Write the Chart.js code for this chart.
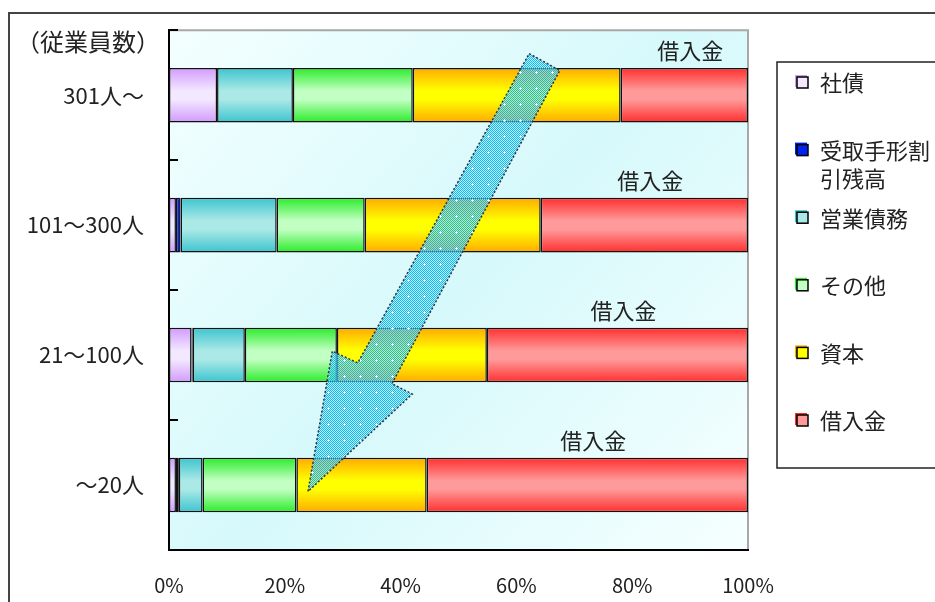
<!DOCTYPE html>
<html lang="ja">
<head>
<meta charset="utf-8">
<title>従業員規模別 資金調達構成</title>
<script src="https://cdn.jsdelivr.net/npm/chart.js@4.4.1/dist/chart.umd.min.js"></script>
<style>
  html, body { margin: 0; padding: 0; background: #fff; }
  #wrap { width: 935px; height: 602px; }
</style>
</head>
<body>
<div id="wrap"><canvas id="stackChart" width="935" height="602"></canvas></div>
<script>
// employee size classes and share of each funding source (%)
const categories = ['301人〜', '101〜300人', '21〜100人', '〜20人'];
const bonds = [8.3, 1.2, 3.9, 1.2];            // 社債
const discounted = [0, 0.8, 0.2, 0.5];         // 受取手形割引残高
const tradePayables = [13.1, 16.6, 9.0, 4.1];  // 営業債務
const others = [20.7, 15.2, 15.9, 16.2];       // その他
const capital = [35.9, 30.4, 25.9, 22.5];      // 資本
const loans = [22.0, 35.8, 45.1, 55.5];        // 借入金
const xTicks = [0, 20, 40, 60, 80, 100];

// arrow annotation in axis units (x: %, y: category index)
const arrowX = [62.2, 67.5, 38.5, 42.0, 24.0, 28.2, 32.6];
const arrowY = [-0.32, -0.19, 2.22, 2.30, 3.05, 1.97, 2.06];

const FONT = '"Noto Sans CJK JP", "Noto Sans", sans-serif';
const TEXT = '#222';

// vertical gradient per bar: saturated edges, light middle
function barFill(edge, mid) {
  return function(ctx) {
    const chart = ctx.chart;
    if (!chart.chartArea || ctx.type !== 'data') return mid;
    const ys = chart.scales.y;
    const yc = ys.getPixelForValue(ctx.dataIndex);
    const band = Math.abs(ys.getPixelForValue(1) - ys.getPixelForValue(0));
    const half = band * 0.42 / 2;
    const g = chart.ctx.createLinearGradient(0, yc - half, 0, yc + half);
    g.addColorStop(0, edge);
    g.addColorStop(0.42, mid);
    g.addColorStop(0.58, mid);
    g.addColorStop(1, edge);
    return g;
  };
}

function makeSeries(label, data, edge, mid) {
  return {
    label: label,
    data: data,
    backgroundColor: edge === mid ? mid : barFill(edge, mid),
    borderColor: '#111',
    borderWidth: 1.5,
    borderSkipped: false,
    legendEdge: edge,
    legendFill: mid
  };
}

const datasets = [
  makeSeries('社債', bonds, '#d29aff', '#f2e8ff'),
  makeSeries('受取手形割引残高', discounted, '#0022ee', '#0022ee'),
  makeSeries('営業債務', tradePayables, '#3cc4cf', '#abe9e6'),
  makeSeries('その他', others, '#2aec2a', '#c2ffc2'),
  makeSeries('資本', capital, '#ffaa00', '#ffff00'),
  makeSeries('借入金', loans, '#ff2e2e', '#ff9a9a')
];

function dotPattern(ctx) {
  const c = document.createElement('canvas');
  c.width = 16; c.height = 16;
  const p = c.getContext('2d');
  p.fillStyle = '#12b8ee';
  for (let i = 0; i < 16; i++) {
    for (let j = 0; j < 16; j++) {
      if ((i + j) % 2 === 0) p.fillRect(i, j, 1, 1);
    }
  }
  p.fillStyle = 'rgba(150,225,250,0.45)';
  for (let i = 0; i < 16; i++) {
    for (let j = 0; j < 16; j++) {
      if ((i + j) % 2 === 1) p.fillRect(i, j, 1, 1);
    }
  }
  p.fillStyle = '#ffffff';
  p.fillRect(7, 8, 3, 1);
  p.fillRect(8, 7, 1, 3);
  return ctx.createPattern(c, 'repeat');
}

// frame and plot background
const backdrop = {
  id: 'backdrop',
  beforeDraw(chart) {
    const { ctx, chartArea: a } = chart;
    ctx.save();
    ctx.strokeStyle = '#444';
    ctx.lineWidth = 2;
    ctx.beginPath();
    ctx.moveTo(9, chart.height + 2);
    ctx.lineTo(9, 13);
    ctx.lineTo(chart.width + 2, 13);
    ctx.stroke();

    const g = ctx.createLinearGradient(a.left, a.top, a.right, a.bottom);
    g.addColorStop(0, '#f4ffff');
    g.addColorStop(0.5, '#d6f9fb');
    g.addColorStop(1, '#f6ffff');
    ctx.fillStyle = g;
    ctx.fillRect(a.left, a.top, a.right - a.left, a.bottom - a.top);

    ctx.strokeStyle = '#a8a8a8';
    ctx.beginPath();
    ctx.moveTo(a.left, a.top);
    ctx.lineTo(a.right, a.top);
    ctx.lineTo(a.right, a.bottom);
    ctx.stroke();
    ctx.restore();
  }
};

// arrow, inner ticks, segment labels, axis caption
const overlays = {
  id: 'overlays',
  afterDatasetsDraw(chart) {
    const { ctx, chartArea: a, scales: { x, y } } = chart;
    ctx.save();

    // inward tick marks at category boundaries
    ctx.strokeStyle = '#000';
    ctx.lineWidth = 2;
    for (let i = 0; i <= categories.length; i++) {
      const yy = Math.round(y.getPixelForValue(i - 0.5));
      ctx.beginPath();
      ctx.moveTo(a.left, yy);
      ctx.lineTo(a.left + 9, yy);
      ctx.stroke();
    }

    // arrow
    ctx.beginPath();
    arrowX.forEach((v, i) => {
      const px = x.getPixelForValue(v);
      const py = y.getPixelForValue(arrowY[i]);
      if (i === 0) ctx.moveTo(px, py); else ctx.lineTo(px, py);
    });
    ctx.closePath();
    ctx.fillStyle = dotPattern(ctx);
    ctx.fill();
    ctx.setLineDash([2, 2]);
    ctx.lineWidth = 1.5;
    ctx.strokeStyle = '#333';
    ctx.stroke();
    ctx.setLineDash([]);

    // "借入金" above the last segment of each bar
    const last = chart.data.datasets.length - 1;
    const meta = chart.getDatasetMeta(last);
    ctx.fillStyle = TEXT;
    ctx.font = '22px ' + FONT;
    ctx.textAlign = 'center';
    ctx.textBaseline = 'middle';
    meta.data.forEach(el => {
      const p = el.getProps(['x', 'y', 'base', 'height'], true);
      ctx.fillText(chart.data.datasets[last].label, (p.x + p.base) / 2 + 6, p.y - p.height / 2 - 17);
    });

    // axis caption
    ctx.font = '24px ' + FONT;
    ctx.textAlign = 'right';
    ctx.fillText('（従業員数）', a.left - 9, 42);
    ctx.restore();
  }
};

function wrapChars(ctx, text, maxWidth) {
  const lines = [];
  let cur = '';
  for (const ch of text) {
    if (cur && ctx.measureText(cur + ch).width > maxWidth) {
      lines.push(cur);
      cur = ch;
    } else {
      cur += ch;
    }
  }
  if (cur) lines.push(cur);
  return lines;
}

// legend box at the right, partly cut by the canvas edge
const sideLegend = {
  id: 'sideLegend',
  afterDraw(chart) {
    const ctx = chart.ctx;
    ctx.save();
    ctx.strokeStyle = '#222';
    ctx.lineWidth = 1.5;
    ctx.strokeRect(777, 62, 200, 406);

    ctx.font = '22px ' + FONT;
    ctx.textAlign = 'left';
    ctx.textBaseline = 'middle';
    chart.data.datasets.forEach((ds, i) => {
      const yy = 83 + i * 67.6;
      ctx.fillStyle = ds.legendEdge;
      ctx.fillRect(795, yy - 8, 12, 12);
      ctx.fillStyle = ds.legendFill;
      ctx.fillRect(797, yy - 6, 11, 11);
      ctx.strokeStyle = '#000';
      ctx.lineWidth = 1.5;
      ctx.strokeRect(797, yy - 6, 11, 11);
      ctx.fillStyle = TEXT;
      wrapChars(ctx, ds.label, 114).forEach((line, k) => {
        ctx.fillText(line, 820, yy + k * 28);
      });
    });
    ctx.restore();
  }
};

const chart = new Chart(document.getElementById('stackChart'), {
  type: 'bar',
  data: { labels: categories, datasets: datasets },
  options: {
    indexAxis: 'y',
    responsive: false,
    animation: false,
    datasets: { bar: { categoryPercentage: 1, barPercentage: 0.42 } },
    layout: { padding: { left: 0, top: 27, right: 187, bottom: 0 } },
    plugins: { legend: { display: false }, tooltip: { enabled: false } },
    scales: {
      x: {
        stacked: true,
        min: 0,
        max: 100,
        grid: { display: false },
        border: { display: true, color: '#000', width: 2 },
        afterBuildTicks: s => { s.ticks = xTicks.map(v => ({ value: v })); },
        afterFit: s => { s.height = 52; },
        ticks: {
          padding: 15,
          color: TEXT,
          maxRotation: 0,
          autoSkip: false,
          font: { size: 20, family: FONT },
          callback: v => v + '%'
        }
      },
      y: {
        stacked: true,
        grid: { display: false },
        border: { display: true, color: '#000', width: 2 },
        afterFit: s => { s.width = 169; },
        ticks: { padding: 17, color: TEXT, font: { size: 22, family: FONT } }
      }
    }
  },
  plugins: [backdrop, overlays, sideLegend]
});
</script>
</body>
</html>
